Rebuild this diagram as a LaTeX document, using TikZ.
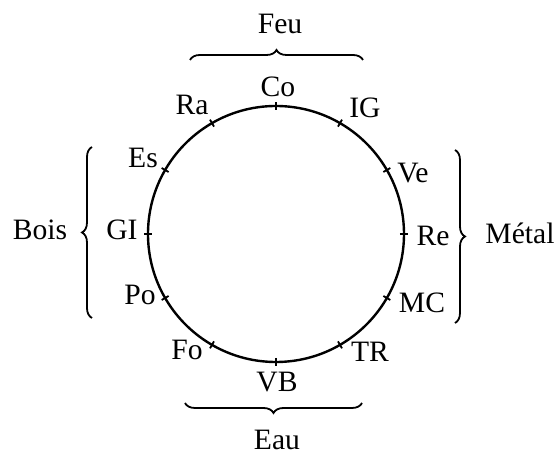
\documentclass[tikz,border=0pt]{standalone}
\usepackage{fontspec}
\setmainfont{Liberation Serif}
\usetikzlibrary{decorations.pathreplacing}
\begin{document}
\begin{tikzpicture}[
  x=0.5pt,y=0.5pt,
  font=\fontsize{14.8}{17}\selectfont,
  ring/.style={draw,circle,line width=1.2pt,minimum size=128pt,inner sep=0pt,outer sep=0pt},
  tickmark/.style={line width=0.9pt},
  bracket/.style={decorate,decoration={brace,amplitude=5pt},line width=0.9pt},
  lbl/.style={inner sep=0pt}
]
\useasboundingbox (-276,-220) rectangle (282,234);
\node[ring] (ring) at (0,0) {};
\foreach \a in {0,30,...,330}
  \draw[tickmark] (ring.\a) ++(\a:-4) -- ++(\a:8);
% points on the circle
\foreach \t/\x/\y in {Co/2/147, Ra/-84/129, IG/89/126, Es/-133/76, GI/-154/4, Po/-136/-61,
                      Ve/137/61, Re/157/-2, MC/146/-69, Fo/-89/-116, VB/1/-148, TR/94/-118}
  \node[lbl] (\t) at (\x,\y) {\t};
% braces
\coordinate (feuL) at (-86,174);
\coordinate (feuR) at (87,174);
\coordinate (eauR) at (86,-169);
\coordinate (eauL) at (-91,-169);
\coordinate (boisB) at (-184,-84);
\coordinate (boisT) at (-184,87);
\coordinate (metalT) at (179,84);
\coordinate (metalB) at (179,-89);
\draw[bracket] (feuL) -- (feuR);
\draw[bracket] (eauR) -- (eauL);
\draw[bracket] (boisB) -- (boisT);
\draw[bracket] (metalT) -- (metalB);
\node[lbl] (feu) at (4,210) {Feu};
\node[lbl] (eau) at (1,-206) {Eau};
\node[lbl] (bois) at (-236,4) {Bois};
\node[lbl] (metal) at (244,1) {Métal};
\end{tikzpicture}
\end{document}
